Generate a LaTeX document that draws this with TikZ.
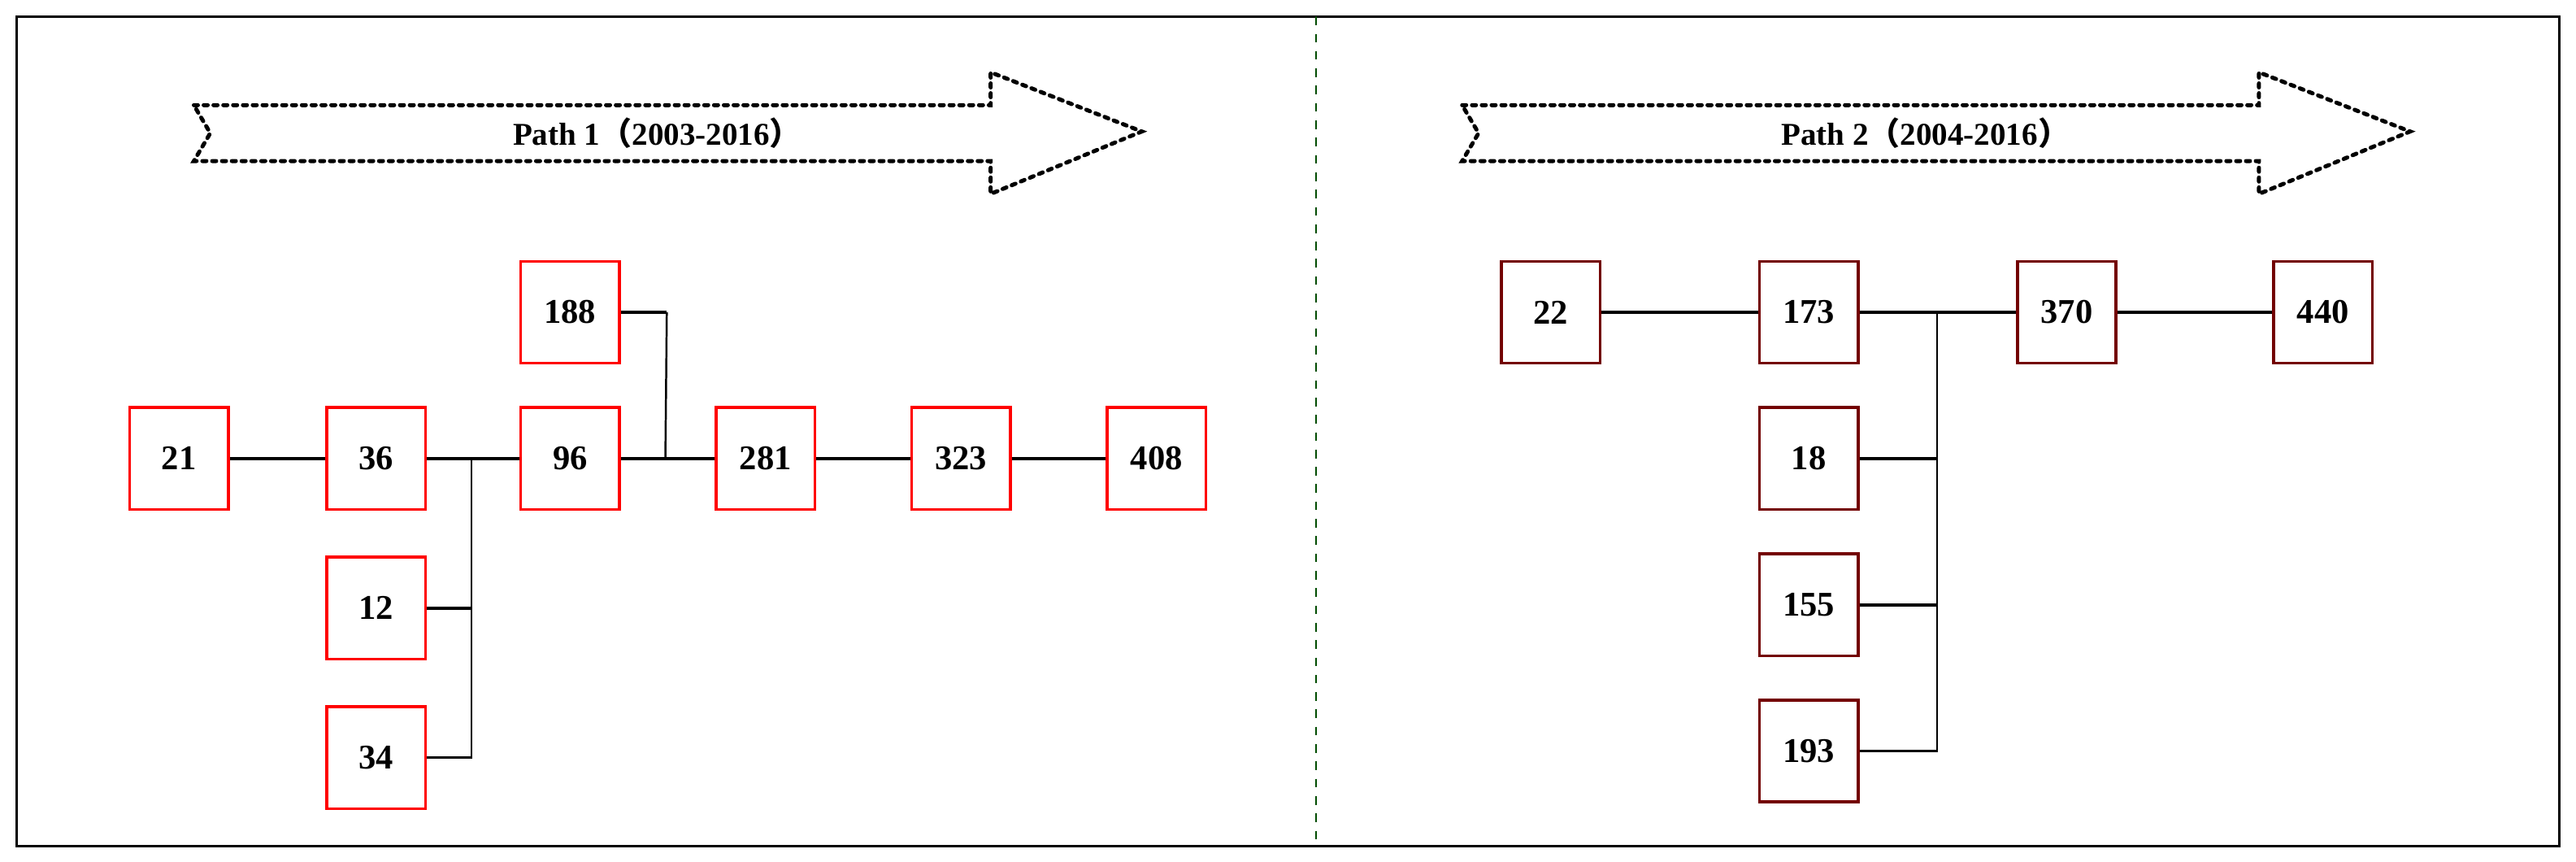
\documentclass[tikz,border=0pt]{standalone}
\usepackage{fontspec}
\setmainfont{Liberation Serif}
\newfontfamily\cjk{Noto Sans CJK SC}
\begin{document}
\begin{tikzpicture}[x=0.02cm,y=-0.02cm,
  boxa/.style={draw=red,line width=1pt,minimum width=1.2cm,minimum height=1.24cm,font=\bfseries\fontsize{12}{14}\selectfont},
  boxb/.style={boxa,draw=red!45!black},
  link/.style={line width=1.1pt},
  vlink/.style={line width=0.7pt},
  arr/.style={line width=1.4pt,dotted,line cap=round}]
\useasboundingbox (0,0) rectangle (1568,524);
\draw[line width=0.9pt] (10,10) rectangle (1558,515);
\draw[green!30!black,dashed,line width=0.5pt] (801,10) -- (801,515);
\foreach \s/\t in {0/{Path 1{\cjk（}2003-2016{\cjk）}},772/{Path 2{\cjk（}2004-2016{\cjk）}}}{
\begin{scope}[xshift=\s*0.02cm]
\draw[arr] (118,64) -- (603,64) -- (603,44) -- (695,80) -- (603,118) -- (603,98) -- (118,98) -- (128,81) -- cycle;
\node[font=\bfseries\fontsize{11}{13}\selectfont] at (400,81) {\t};
\end{scope}}
\node[boxa] (n21) at (109,279) {21};
\node[boxa] (n36) at (229,279) {36};
\node[boxa] (n96) at (347,279) {96};
\node[boxa] (n281) at (466,279) {281};
\node[boxa] (n323) at (585,279) {323};
\node[boxa] (n408) at (704,279) {408};
\node[boxa] (n188) at (347,190) {188};
\node[boxa] (n12) at (229,370) {12};
\node[boxa] (n34) at (229,461) {34};
\draw[link] (n21) -- (n36); \draw[link] (n36) -- (n96); \draw[link] (n96) -- (n281);
\draw[link] (n281) -- (n323); \draw[link] (n323) -- (n408);
\coordinate (j1) at (287,279); \coordinate (j2) at (405,279);
\draw[vlink] (j1) |- (n34.east); \draw[link] (n12.east) -- (n12.east -| j1);
\draw[link] (n188.east) -- ++(28,0) coordinate (k); \draw[vlink] (k) -- (j2);
\node[boxb] (n22) at (944,190) {22};
\node[boxb] (n173) at (1101,190) {173};
\node[boxb] (n370) at (1258,190) {370};
\node[boxb] (n440) at (1414,190) {440};
\node[boxb] (n18) at (1101,279) {18};
\node[boxb] (n155) at (1101,368) {155};
\node[boxb] (n193) at (1101,457) {193};
\draw[link] (n22) -- (n173); \draw[link] (n173) -- (n370); \draw[link] (n370) -- (n440);
\coordinate (j3) at (1179,190);
\draw[vlink] (j3) |- (n193.east);
\draw[link] (n18.east) -- (n18.east -| j3);
\draw[link] (n155.east) -- (n155.east -| j3);
\end{tikzpicture}
\end{document}
